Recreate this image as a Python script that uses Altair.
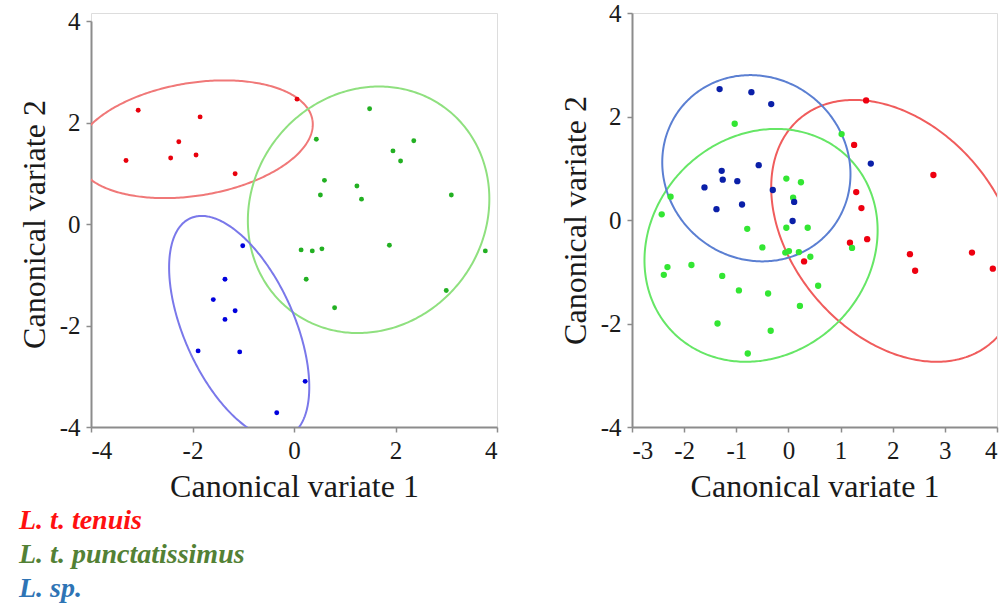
import numpy as np
import pandas as pd
import altair as alt

# Group names and colours
groups = ["L. t. tenuis", "L. t. punctatissimus", "L. sp."]
legend_colors = ["#ff1010", "#538135", "#2e74b5"]

# Left panel: canonical scores
left_tenuis_x = [-3.07, -1.85, -2.27, -3.31, -2.43, -1.93, -1.16, 0.06]
left_tenuis_y = [2.24, 2.11, 1.62, 1.25, 1.30, 1.36, 0.99, 2.46]
left_punct_x = [1.49, 0.44, 2.36, 1.95, 2.10, 0.60, 1.24, 0.52, 1.33, 3.10, 0.14, 0.36, 0.55, 1.88, 3.77, 0.24, 3.00, 0.80]
left_punct_y = [2.27, 1.67, 1.64, 1.44, 1.24, 0.86, 0.75, 0.57, 0.49, 0.57, -0.51, -0.53, -0.49, -0.42, -0.53, -1.09, -1.31, -1.65]
left_sp_x = [-1.01, -1.36, -1.59, -1.16, -1.36, -1.89, -1.07, 0.22, -0.34]
left_sp_y = [-0.43, -1.09, -1.49, -1.71, -1.88, -2.50, -2.52, -3.10, -3.72]

# Right panel: canonical scores
right_tenuis_x = [1.49, 1.26, 2.78, 1.30, 1.40, 1.51, 1.18, 0.30, 2.33, 2.43, 3.52, 3.92]
right_tenuis_y = [2.31, 1.45, 0.87, 0.54, 0.23, -0.37, -0.44, -0.80, -0.66, -0.98, -0.63, -0.94]
right_punct_x = [-1.03, 1.02, -0.04, 0.24, 0.09, -2.26, -2.43, -0.79, -0.04, 0.37, -0.50, -0.06, 0.01,
                 0.20, 0.42, 1.22, -2.32, -2.39, -1.86, -1.27, 0.57, -0.95, -0.39, 0.22, -1.36, -0.34, -0.78]
right_punct_y = [1.86, 1.66, 0.80, 0.73, 0.43, 0.45, 0.11, -0.17, -0.15, -0.15, -0.53, -0.63, -0.60,
                 -0.62, -0.71, -0.54, -0.91, -1.06, -0.87, -1.08, -1.27, -1.36, -1.42, -1.66, -2.00, -2.14, -2.58]
right_sp_x = [-1.32, -0.71, -0.33, -0.57, -1.28, -1.26, -0.98, -1.61, -0.30, -0.89, -1.38, 0.11, 0.08, 1.58]
right_sp_y = [2.53, 2.47, 2.24, 1.06, 0.95, 0.78, 0.75, 0.63, 0.58, 0.30, 0.21, 0.35, -0.02, 1.09]

# Confidence ellipses: centre x, centre y, semi-axis a, semi-axis b, rotation (degrees)
left_ell_cx = [-1.96, 1.47, -1.08]
left_ell_cy = [1.67, 0.28, -2.035]
left_ell_a = [2.354, 2.51, 2.354]
left_ell_b = [1.111, 2.293, 1.086]
left_ell_rot = [9.25, 51.6, -65.9]

right_ell_cx = [2.05, -0.525, -0.615]
right_ell_cy = [-0.21, -0.49, 1.0]
right_ell_a = [2.84, 2.383, 1.859]
right_ell_b = [2.0, 2.093, 1.744]
right_ell_rot = [-50.2, 46.4, -43.75]

left_pt_colors = ["#e8000c", "#22b022", "#0000dd"]
left_ell_colors = ["#f07878", "#8fe07f", "#7a78ea"]
right_pt_colors = ["#ee0010", "#33e633", "#0a1fa8"]
right_ell_colors = ["#f05c5c", "#66e666", "#5b7fd2"]


def points_frame(xs, ys):
    rows = []
    for g, x, y in zip(groups, xs, ys):
        for xi, yi in zip(x, y):
            rows.append({"x": xi, "y": yi, "group": g})
    return pd.DataFrame(rows)


def ellipse_frame(cx, cy, a, b, rot, n=361):
    t = np.linspace(0, 2 * np.pi, n)
    frames = []
    for g, x0, y0, aa, bb, r in zip(groups, cx, cy, a, b, rot):
        th = np.deg2rad(r)
        ex = x0 + aa * np.cos(t) * np.cos(th) - bb * np.sin(t) * np.sin(th)
        ey = y0 + aa * np.cos(t) * np.sin(th) + bb * np.sin(t) * np.cos(th)
        frames.append(pd.DataFrame({"x": ex, "y": ey, "i": np.arange(n), "group": g}))
    return pd.concat(frames, ignore_index=True)


FONT = "Liberation Serif"
AXIS_GREY = "#8c8c8c"


def axis(title, values):
    return alt.Axis(
        title=title, values=values, grid=False, labelExpr="'' + datum.value",
        domainColor=AXIS_GREY, domainWidth=2, tickColor=AXIS_GREY, tickWidth=1.5,
        tickSize=5, labelFont=FONT, labelFontSize=25, labelColor="#1a1a1a",
        labelPadding=6, titleFont=FONT, titleFontSize=32, titleFontWeight="normal",
        titleColor="#1a1a1a", titlePadding=8, labelOverlap=False,
    )


def panel(pts, ell, xdom, xvals, yrange, width, height, pt_colors, ell_colors, size):
    xs = alt.Scale(domain=xdom, nice=False, zero=False)
    ys = alt.Scale(domain=[-4, 4], nice=False, zero=False, range=yrange)
    x_enc = alt.X("x:Q", scale=xs, axis=axis("Canonical variate 1", xvals))
    y_enc = alt.Y("y:Q", scale=ys, axis=axis("Canonical variate 2", [-4, -2, 0, 2, 4]))
    rings = alt.Chart(ell).mark_line(clip=True, strokeWidth=2).encode(
        x=x_enc, y=y_enc, order="i:Q",
        color=alt.Color("group:N", scale=alt.Scale(domain=groups, range=ell_colors), legend=None),
    )
    dots = alt.Chart(pts).mark_circle(size=size, opacity=1).encode(
        x=x_enc, y=y_enc,
        color=alt.Color("group:N", scale=alt.Scale(domain=groups, range=pt_colors), legend=None),
    )
    return alt.layer(rings, dots).resolve_scale(color="independent").properties(width=width, height=height)


left = panel(points_frame([left_tenuis_x, left_punct_x, left_sp_x], [left_tenuis_y, left_punct_y, left_sp_y]),
             ellipse_frame(left_ell_cx, left_ell_cy, left_ell_a, left_ell_b, left_ell_rot),
             [-4, 4], [-4, -2, 0, 2, 4], [414, 8], 406, 414, left_pt_colors, left_ell_colors, 24)

right = panel(points_frame([right_tenuis_x, right_punct_x, right_sp_x], [right_tenuis_y, right_punct_y, right_sp_y]),
              ellipse_frame(right_ell_cx, right_ell_cy, right_ell_a, right_ell_b, right_ell_rot),
              [-3, 4], [-3, -2, -1, 0, 1, 2, 3, 4], [414, 0], 365, 414, right_pt_colors, right_ell_colors, 40)

# Group key written below the left panel
legend_df = pd.DataFrame({"label": groups, "color": legend_colors})
key_layers = []
for k, (lab, col) in enumerate(zip(groups, legend_colors)):
    key_layers.append(
        alt.Chart(legend_df[legend_df.label == lab]).mark_text(
            align="left", baseline="alphabetic", font=FONT, fontSize=28,
            fontStyle="italic", fontWeight="bold", color=col,
        ).encode(text="label:N", x=alt.value(-72), y=alt.value(516 + 34 * k))
    )

left = alt.layer(left, *key_layers)

chart = alt.hconcat(left, right, spacing=135, bounds="flush").properties(
    padding={"left": 17, "top": 0, "right": 0, "bottom": 0}
).configure_view(stroke=None).configure(background="white")

chart.save("out.html", embed_options={"renderer": "svg", "actions": False})
